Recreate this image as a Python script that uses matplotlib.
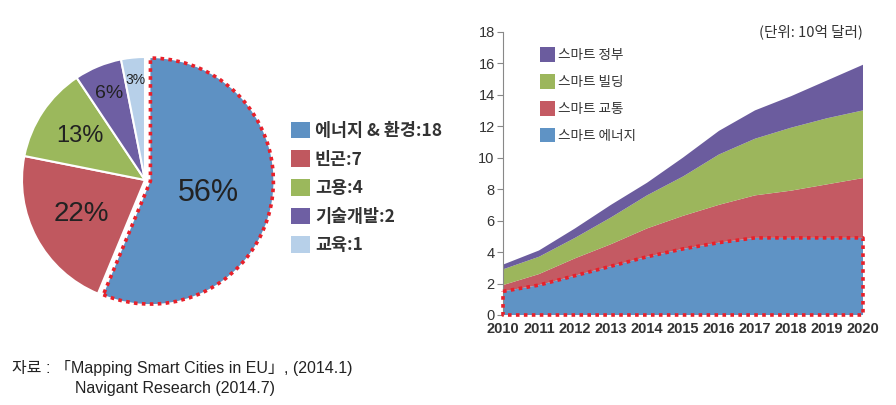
# Smart city projects pie (EU) + smart city market stacked area (Navigant)
import numpy as np
import matplotlib.pyplot as plt
from matplotlib.patches import Patch

plt.rcParams['font.family'] = ['Liberation Sans', 'Noto Sans CJK KR', 'DejaVu Sans']
KR = ['Noto Sans CJK KR', 'Liberation Sans', 'DejaVu Sans']
NARROW = ['Liberation Sans Narrow', 'Liberation Sans', 'DejaVu Sans']

# pie data
pie_labels = ["에너지 & 환경:18", "빈곤:7", "고용:4", "기술개발:2", "교육:1"]
pie_values = [18, 7, 4, 2, 1]
pie_pcts = ["56%", "22%", "13%", "6%", "3%"]
pie_colors = ["#5E91C3", "#C0585F", "#9BB85C", "#6E5FA3", "#B7D0E9"]

# area data (billion USD)
years = [2010, 2011, 2012, 2013, 2014, 2015, 2016, 2017, 2018, 2019, 2020]
energy = [1.5, 1.9, 2.5, 3.1, 3.7, 4.2, 4.6, 4.9, 4.9, 4.9, 4.9]
transport = [0.4, 0.7, 1.1, 1.4, 1.8, 2.1, 2.4, 2.7, 3.0, 3.4, 3.8]
building = [1.0, 1.1, 1.3, 1.7, 2.1, 2.5, 3.2, 3.6, 4.0, 4.2, 4.3]
government = [0.3, 0.4, 0.6, 0.8, 0.8, 1.2, 1.5, 1.8, 2.0, 2.4, 2.9]
area_labels = ["스마트 에너지", "스마트 교통", "스마트 빌딩", "스마트 정부"]
area_colors = ["#5F93C5", "#C45A63", "#9CB65C", "#6B5C9E"]

fig = plt.figure(figsize=(8.96, 4.05), dpi=100)

# ---- pie ----
cx, cy, r = 145, 180, 123
half = 142
ax1 = fig.add_axes([(cx - half) / 896, (405 - cy - half) / 405, 2 * half / 896, 2 * half / 405])
wedges, _ = ax1.pie(pie_values, colors=pie_colors, startangle=90, counterclock=False,
                    explode=[0.045, 0, 0, 0, 0],
                    wedgeprops=dict(edgecolor="white", linewidth=1.5))
lim = half / r
ax1.set_xlim(-lim, lim)
ax1.set_ylim(-lim, lim)
ax1.set_aspect("equal")
ax1.axis("off")

# red dotted outline on the big wedge
wedges[0].set_edgecolor("#E8202A")
wedges[0].set_linestyle((0, (1, 1.2)))
wedges[0].set_linewidth(2.6)
wedges[0].set_zorder(3)

dists = [0.48, 0.59, 0.64, 0.76, 0.82]
sizes = [22, 20, 17, 14, 10]
for w, txt, d, s in zip(wedges, pie_pcts, dists, sizes):
    ang = np.deg2rad((w.theta1 + w.theta2) / 2)
    x0, y0 = w.center
    ax1.text(x0 + d * np.cos(ang), y0 + d * np.sin(ang), txt, ha="center", va="center",
             fontsize=s, color="#222222", zorder=5)

handles = [Patch(facecolor=c, edgecolor="none") for c in pie_colors]
fig.legend(handles, pie_labels, loc="upper left", bbox_to_anchor=(275 / 896, 1 - 106 / 405),
           frameon=False, prop=dict(family=KR, size=12.5, weight="bold"),
           handlelength=1.1, handleheight=1.1, handletextpad=0.3, labelspacing=0.6,
           labelcolor="#333333")

# ---- stacked area ----
ax2 = fig.add_axes([503 / 896, 90 / 405, 360 / 896, 283.3 / 405])
polys = ax2.stackplot(years, energy, transport, building, government,
                      colors=area_colors, labels=area_labels, linewidth=0)
ax2.set_xlim(2010, 2020)
ax2.set_ylim(0, 18)
ax2.set_yticks(range(0, 19, 2))
ax2.set_xticks(years)
for sp in ["top", "right", "bottom"]:
    ax2.spines[sp].set_visible(False)
ax2.spines["left"].set_color("#888888")
ax2.tick_params(axis="y", length=4, color="#888888", labelsize=10.5, labelcolor="#333333", pad=2)
ax2.tick_params(axis="x", length=0, labelsize=10.5, labelcolor="#333333", pad=5)
for lab in ax2.get_yticklabels():
    lab.set_family(NARROW)
for lab in ax2.get_xticklabels():
    lab.set_fontweight("bold")
    lab.set_family(NARROW)

# red dotted outline around the energy area
ox = years + [2020, 2010, 2010]
oy = energy + [0, 0, energy[0]]
ax2.plot(ox, oy, color="#E8202A", linestyle=(0, (1, 1.2)), linewidth=2.6, clip_on=False, zorder=4)

h, l = ax2.get_legend_handles_labels()
ax2.legend(h[::-1], l[::-1], loc="upper left", bbox_to_anchor=(0.07, 0.99), frameon=False,
           prop=dict(family=KR, size=9.8), handlelength=1.05, handleheight=1.3,
           handletextpad=0.25, labelspacing=0.88, labelcolor="#333333")

ax2.text(1.0, 1.0, "(단위: 10억 달러)", transform=ax2.transAxes, ha="right", va="center",
         fontsize=10.5, family=KR, color="#333333")

# source note
fig.text(12 / 896, 1 - 368 / 405, "자료 : 「Mapping Smart Cities in EU」, (2014.1)",
         fontsize=11.5, va="center", color="#222222")
fig.text(75 / 896, 1 - 389 / 405, "Navigant Research (2014.7)",
         fontsize=11.5, va="center", color="#222222")

fig.savefig("out.png", dpi=100)
